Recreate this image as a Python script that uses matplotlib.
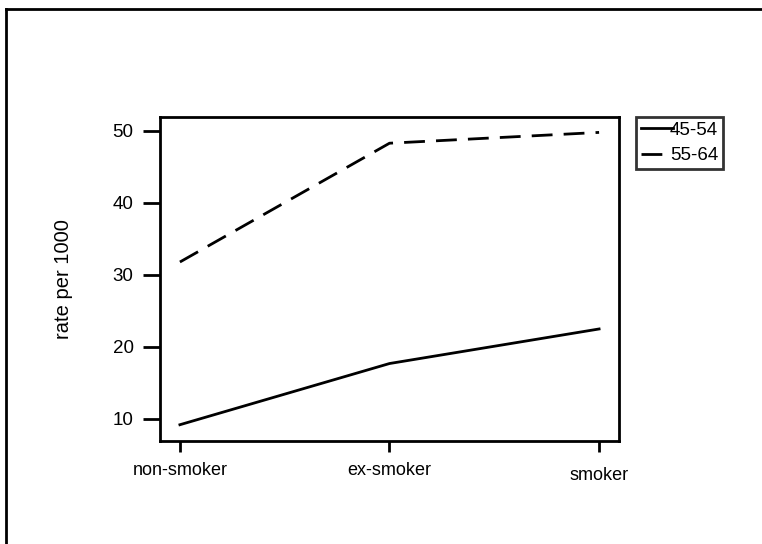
import matplotlib
matplotlib.use("Agg")
import matplotlib.pyplot as plt
from matplotlib.lines import Line2D
from matplotlib.transforms import ScaledTranslation

plt.rcParams['font.family'] = ['Liberation Sans', 'DejaVu Sans']

# data
categories = ["non-smoker", "ex-smoker", "smoker"]
series_labels = ["45-54", "55-64"]
rate_45_54 = [9.2, 17.7, 22.5]
rate_55_64 = [31.8, 48.3, 49.8]
y_ticks = [10, 20, 30, 40, 50]

fig = plt.figure(figsize=(7.62, 5.44), dpi=100)
ax = fig.add_axes([160 / 762, 1 - 441 / 544, 459 / 762, 324 / 544])

x = list(range(len(categories)))
ax.plot(x, rate_45_54, color='black', lw=2, label=series_labels[0])
ax.plot(x, rate_55_64, color='black', lw=2, dashes=(7.5, 4), label=series_labels[1])

ax.set_xlim(-0.095, 2.095)
ax.set_ylim(6.94, 51.94)
ax.set_xticks(x)
ax.set_xticklabels(categories, fontsize=13)
ax.set_yticks(y_ticks)
ax.set_yticklabels([str(v) for v in y_ticks], fontsize=13.5)
ax.tick_params(axis='y', direction='out', length=12, width=2, pad=7)
ax.tick_params(axis='x', direction='out', length=8, width=2, pad=7)
for s in ax.spines.values():
    s.set_linewidth(2)

# last category label sits a bit lower in the original
lbl = ax.get_xticklabels()[-1]
lbl.set_transform(lbl.get_transform() + ScaledTranslation(0, -5 / 100, fig.dpi_scale_trans))

ax.set_ylabel("rate per 1000", fontsize=14.5)
ax.yaxis.set_label_coords(-0.19, 0.5)

leg = fig.legend(loc='upper left', bbox_to_anchor=(636 / 762, 1 - 117 / 544),
                 fontsize=13.5, frameon=True, fancybox=False, edgecolor='black',
                 handlelength=1.7, handletextpad=-0.15, borderpad=0.25,
                 labelspacing=0.45, borderaxespad=0)
leg.get_frame().set_linewidth(2)
for h in leg.get_lines():
    h.set_linewidth(2)

# outer frame (left and top edges)
fig.add_artist(Line2D([6 / 762, 6 / 762], [0, 1 - 9 / 544], color='black', lw=2,
                      transform=fig.transFigure))
fig.add_artist(Line2D([6 / 762, 1], [1 - 9 / 544, 1 - 9 / 544], color='black', lw=2,
                      transform=fig.transFigure))

fig.savefig("out.png", dpi=100, facecolor='white')
